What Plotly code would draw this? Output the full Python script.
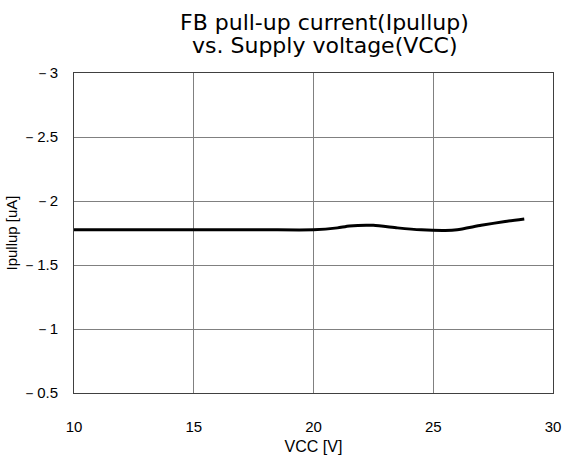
import plotly.graph_objects as go

# Supply voltage sweep (V) and measured FB pull-up current (uA)
vcc = [10, 12, 14, 16, 18, 20, 21, 21.5, 22.5, 23.5, 24.5, 25.5, 26, 27, 28, 28.8]
ipullup = [-1.775, -1.775, -1.775, -1.775, -1.775, -1.775, -1.79, -1.805, -1.81,
           -1.79, -1.775, -1.77, -1.775, -1.81, -1.84, -1.86]

x_ticks = [10, 15, 20, 25, 30]
y_ticks = [-3, -2.5, -2, -1.5, -1, -0.5]
y_tick_labels = ["－3", "－2.5", "－2", "－1.5", "－1", "－0.5"]

title_lines = ["FB pull-up current(Ipullup)", "vs. Supply voltage(VCC)"]

font_family = "Liberation Sans, Arial, sans-serif"
title_family = "DejaVu Sans, Liberation Sans, sans-serif"

fig = go.Figure(
    go.Scatter(
        x=vcc, y=ipullup, mode="lines",
        line=dict(color="black", width=3, shape="spline", smoothing=0.6),
        hoverinfo="skip",
    )
)

axis_common = dict(
    showgrid=True, gridcolor="#808080", gridwidth=1,
    showline=True, linecolor="#404040", linewidth=1, mirror=True,
    zeroline=False, ticks="", tickfont=dict(size=15, color="black", family=font_family),
)

# Two-line chart heading placed as paper annotations above the plot area
for i, line in enumerate(title_lines):
    fig.add_annotation(
        text=line, xref="paper", yref="paper", x=0.523, y=1.0,
        yshift=51 - 23 * i, xanchor="center", yanchor="middle",
        showarrow=False, font=dict(size=22, color="black", family=title_family),
    )

fig.update_layout(
    width=584, height=464,
    margin=dict(l=72, r=31, t=73, b=70),
    paper_bgcolor="white", plot_bgcolor="white",
    showlegend=False,
    xaxis=dict(
        range=[10, 30], tickvals=x_ticks, ticklabelstandoff=20,
        title=dict(text="VCC [V]", font=dict(size=16, color="black", family=font_family), standoff=6),
        **axis_common,
    ),
    yaxis=dict(
        range=[-0.5, -3], autorange=False, tickvals=y_ticks, ticktext=y_tick_labels,
        ticklabelstandoff=12,
        title=dict(text="Ipullup [uA]", font=dict(size=15, color="black", family=font_family), standoff=0),
        **axis_common,
    ),
)

fig.write_html("out.html")
